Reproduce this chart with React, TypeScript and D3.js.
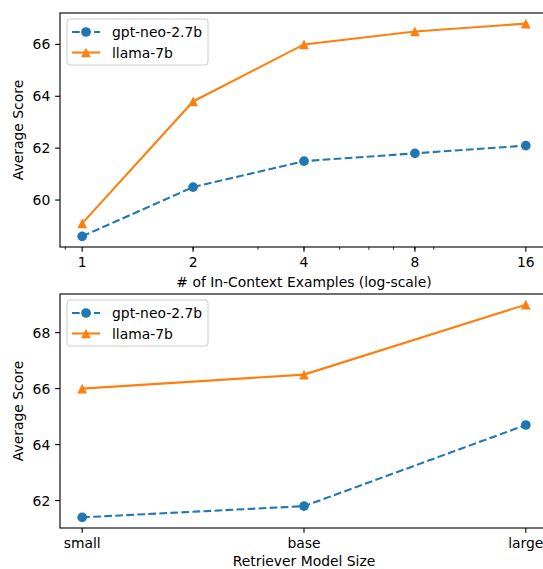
import React from "react";
import * as d3 from "d3";

const shots = [1, 2, 4, 8, 16];
const shotMinor = [0.9, 2, 3, 4, 5, 6, 7, 8, 9];
const gptShots = [58.6, 60.5, 61.5, 61.8, 62.1];
const llamaShots = [59.1, 63.8, 66.0, 66.5, 66.8];
const yTicksTop = [60, 62, 64, 66];

const sizes = ["small", "base", "large"];
const gptSizes = [61.4, 61.8, 64.7];
const llamaSizes = [66.0, 66.5, 69.0];
const yTicksBottom = [62, 64, 66, 68];

const seriesNames = ["gpt-neo-2.7b", "llama-7b"];
const BLUE = "#1f77b4";
const ORANGE = "#ff7f0e";
const FONT = "DejaVu Sans, sans-serif";
const FS = 13.9;
const PT = 100 / 72;

const L = 60, R = 548;
const TOP1 = 13, BOT1 = 247;
const TOP2 = 294, BOT2 = 528;

function pad(vals: number[]) {
  const lo = d3.min(vals)!, hi = d3.max(vals)!;
  const m = (hi - lo) * 0.05;
  return [lo - m, hi + m];
}

function Marker({ kind, x, y, color }: { kind: string; x: number; y: number; color: string }) {
  const s = 3.5 * PT;
  if (kind === "circle") return <circle cx={x} cy={y} r={s} fill={color} />;
  return <path d={`M${x},${y - s}L${x - s},${y + s}L${x + s},${y + s}Z`} fill={color} />;
}

function Legend({ x, y }: { x: number; y: number }) {
  return (
    <g>
      <rect x={x} y={y} width={141} height={46} rx={3} fill="white" fillOpacity={0.8} stroke="#cccccc" strokeWidth={1} />
      {seriesNames.map((n, i) => {
        const cy = y + 13 + i * 20.5;
        const c = i === 0 ? BLUE : ORANGE;
        return (
          <g key={n}>
            <line x1={x + 5} x2={x + 33} y1={cy} y2={cy} stroke={c} strokeWidth={1.5 * PT} strokeDasharray={i === 0 ? `${3.7 * 1.5 * PT},${1.6 * 1.5 * PT}` : undefined} />
            <Marker kind={i === 0 ? "circle" : "tri"} x={x + 19} y={cy} color={c} />
            <text x={x + 45} y={cy} dy="0.36em" fontSize={FS} fontFamily={FONT}>{n}</text>
          </g>
        );
      })}
    </g>
  );
}

function Panel({
  top, bot, xs, xVals, xLabels, minor, yTicks, a, b, xTitle, titleOff,
}: {
  top: number; bot: number; xs: (v: number) => number; xVals: number[]; xLabels: string[];
  minor: number[]; yTicks: number[]; a: number[]; b: number[]; xTitle: string; titleOff: number;
}) {
  const y = d3.scaleLinear().domain(pad([...a, ...b])).range([bot, top]);
  const line = d3.line<number>().x((_, i) => xs(xVals[i])).y((d) => y(d));
  const tk = 3.5 * PT, padT = 3.5 * PT;
  return (
    <g>
      <path d={line(a)!} fill="none" stroke={BLUE} strokeWidth={1.5 * PT} strokeDasharray={`${3.7 * 1.5 * PT},${1.6 * 1.5 * PT}`} />
      <path d={line(b)!} fill="none" stroke={ORANGE} strokeWidth={1.5 * PT} />
      {a.map((v, i) => <Marker key={"a" + i} kind="circle" x={xs(xVals[i])} y={y(v)} color={BLUE} />)}
      {b.map((v, i) => <Marker key={"b" + i} kind="tri" x={xs(xVals[i])} y={y(v)} color={ORANGE} />)}
      <rect x={L} y={top} width={R - L} height={bot - top} fill="none" stroke="black" strokeWidth={0.8 * PT} />
      {yTicks.map((t) => (
        <g key={t}>
          <line x1={L} x2={L - tk} y1={y(t)} y2={y(t)} stroke="black" strokeWidth={0.8 * PT} />
          <text x={L - tk - padT} y={y(t)} dy="0.36em" textAnchor="end" fontSize={FS} fontFamily={FONT}>{t}</text>
        </g>
      ))}
      {minor.map((t, i) => (
        <line key={"m" + i} x1={xs(t)} x2={xs(t)} y1={bot} y2={bot + 2 * PT} stroke="black" strokeWidth={0.6 * PT} />
      ))}
      {xVals.map((t, i) => (
        <g key={"x" + i}>
          <line x1={xs(t)} x2={xs(t)} y1={bot} y2={bot + tk} stroke="black" strokeWidth={0.8 * PT} />
          <text x={xs(t)} y={bot + tk + padT} dy="0.76em" textAnchor="middle" fontSize={FS} fontFamily={FONT}>{xLabels[i]}</text>
        </g>
      ))}
      <text x={(L + R) / 2} y={bot + titleOff} textAnchor="middle" fontSize={FS} fontFamily={FONT}>{xTitle}</text>
      <text transform={`translate(23,${(top + bot) / 2}) rotate(-90)`} textAnchor="middle" fontSize={FS} fontFamily={FONT}>Average Score</text>
      <Legend x={67} y={top + 6} />
    </g>
  );
}

export default function App() {
  const xLog = d3.scaleLog().base(2).domain([Math.pow(2, -0.2), 16 * Math.pow(2, 0.2)]).range([L, R]);
  const idx = sizes.map((_, i) => i);
  const xCat = d3.scaleLinear().domain([-0.1, 2.1]).range([L, R]);
  return (
    <>
      <style>{`body{margin:0;overflow:hidden}`}</style>
      <svg width={543} height={569} style={{ display: "block" }}>
        <rect width={543} height={569} fill="white" />
        <Panel top={TOP1} bot={BOT1} xs={(v) => xLog(v)} xVals={shots} xLabels={shots.map(String)} minor={shotMinor}
          yTicks={yTicksTop} a={gptShots} b={llamaShots} xTitle="# of In-Context Examples (log-scale)" titleOff={39.5} />
        <Panel top={TOP2} bot={BOT2} xs={(v) => xCat(v)} xVals={idx} xLabels={sizes} minor={[]}
          yTicks={yTicksBottom} a={gptSizes} b={llamaSizes} xTitle="Retriever Model Size" titleOff={37.5} />
      </svg>
    </>
  );
}
